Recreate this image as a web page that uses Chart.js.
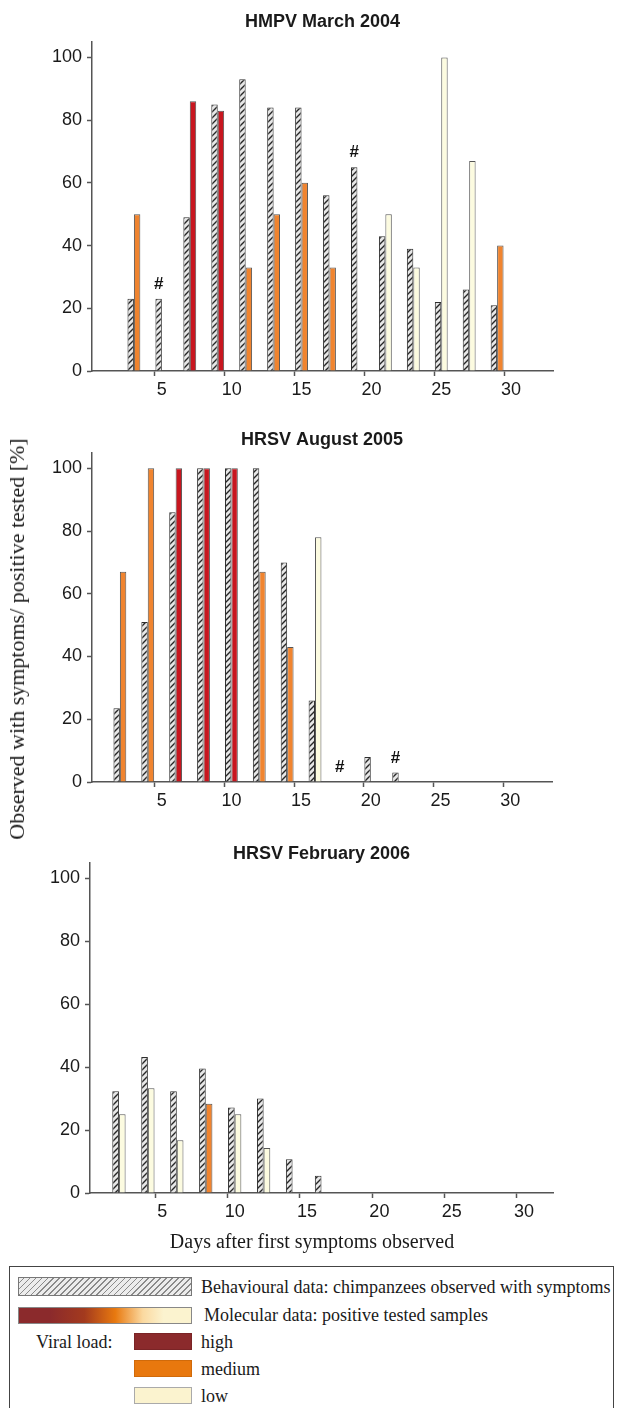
<!DOCTYPE html>
<html>
<head>
<meta charset="utf-8">
<script src="https://cdn.jsdelivr.net/npm/chart.js@4.4.1/dist/chart.umd.min.js"></script>
<style>
  html, body { margin: 0; padding: 0; background: #fff; }
  body { position: relative; width: 620px; height: 1408px; overflow: hidden; font-family: "Liberation Serif", "Times New Roman", serif; color: #1a1a1a; }
  canvas.panel { position: absolute; left: 0; }
  .abs { position: absolute; white-space: nowrap; }
  .ylabel { left: 17px; top: 639px; font-size: 22px; transform: translate(-50%, -50%) rotate(-90deg); }
  .xlabel { left: 312px; top: 1241px; font-size: 20px; transform: translate(-50%, -50%); }
  .legend-box { left: 9px; top: 1266px; width: 605px; height: 160px; border: 1.5px solid #444; border-bottom: none; box-sizing: border-box; }
  .lt { font-size: 18px; transform: translateY(-50%); }
  .sw { box-sizing: border-box; }
</style>
</head>
<body>
<canvas id="c1" class="panel" width="620" height="411" style="top:0px"></canvas>
<canvas id="c2" class="panel" width="620" height="402" style="top:420px"></canvas>
<canvas id="c3" class="panel" width="620" height="399" style="top:834px"></canvas>

<div class="abs ylabel">Observed with symptoms/ positive tested [%]</div>
<div class="abs xlabel">Days after first symptoms observed</div>

<div class="abs legend-box"></div>
<div class="abs sw" style="left:18px;top:1277px;width:174px;height:19px;border:1px solid #777;background:repeating-linear-gradient(135deg,#ececec 0px,#ececec 3px,#8a8a8a 3px,#8a8a8a 4.2px);"></div>
<div class="abs lt" style="left:201px;top:1287px;">Behavioural data: chimpanzees observed with symptoms</div>
<div class="abs sw" style="left:18px;top:1307px;width:174px;height:17px;border:1px solid #888;background:linear-gradient(90deg,#8b2a2c 0%,#8b2a2c 18%,#a33a1e 38%,#e8790f 56%,#fbd9a0 72%,#fbf3cf 84%,#fbf3cf 100%);"></div>
<div class="abs lt" style="left:204px;top:1315px;">Molecular data: positive tested samples</div>
<div class="abs lt" style="left:36px;top:1342px;">Viral load:</div>
<div class="abs sw" style="left:134px;top:1333px;width:58px;height:17px;background:#8b2a2c;border:1px solid #7a2426;"></div>
<div class="abs lt" style="left:201px;top:1342px;">high</div>
<div class="abs sw" style="left:134px;top:1360px;width:58px;height:17px;background:#e8780e;border:1px solid #d06a0a;"></div>
<div class="abs lt" style="left:201px;top:1369px;">medium</div>
<div class="abs sw" style="left:134px;top:1387px;width:58px;height:17px;background:#fbf3cf;border:1px solid #aaa;"></div>
<div class="abs lt" style="left:201px;top:1396px;">low</div>

<script>
// ---------- Data ----------
// Panel titles
const TITLES = ["HMPV March 2004", "HRSV August 2005", "HRSV February 2006"];

// Day categories (x axis)
const DAYS_33 = [0,1,2,3,4,5,6,7,8,9,10,11,12,13,14,15,16,17,18,19,20,21,22,23,24,25,26,27,28,29,30,31,32,33];
const DAYS_32 = [0,1,2,3,4,5,6,7,8,9,10,11,12,13,14,15,16,17,18,19,20,21,22,23,24,25,26,27,28,29,30,31,32];
const X_TICKS = [5, 10, 15, 20, 25, 30];
const Y_TICKS_STEP = 20;

// HMPV March 2004
const HMPV_BEHAV_DAYS = [3, 5, 7, 9, 11, 13, 15, 17, 19, 21, 23, 25, 27, 29];
const HMPV_BEHAV      = [23, 23, 49, 85, 93, 84, 84, 56, 65, 43, 39, 22, 26, 21];
const HMPV_MOL_DAYS   = [3, 7, 9, 11, 13, 15, 17, 21, 23, 25, 27, 29];
const HMPV_MOL        = [50, 86, 83, 33, 50, 60, 33, 50, 33, 100, 67, 40];
const HMPV_LOAD       = ["medium","high","high","medium","medium","medium","medium","low","low","low","low","medium"];
const HMPV_HASH       = [5, 19];

// HRSV August 2005
const AUG_BEHAV_DAYS = [2, 4, 6, 8, 10, 12, 14, 16, 20, 22];
const AUG_BEHAV      = [23.5, 51, 86, 100, 100, 100, 70, 26, 8, 3];
const AUG_MOL_DAYS   = [2, 4, 6, 8, 10, 12, 14, 16];
const AUG_MOL        = [67, 100, 100, 100, 100, 67, 43, 78];
const AUG_LOAD       = ["medium","medium","high","high","high","medium","medium","low"];
const AUG_HASH       = [18, 22];

// HRSV February 2006
const FEB_BEHAV_DAYS = [2, 4, 6, 8, 10, 12, 14, 16];
const FEB_BEHAV      = [32.3, 43.2, 32.3, 39.6, 27.2, 30, 10.7, 5.5];
const FEB_MOL_DAYS   = [2, 4, 6, 8, 10, 12];
const FEB_MOL        = [25, 33.3, 16.8, 28.4, 25, 14.3];
const FEB_LOAD       = ["low","low","low","medium","low","low"];
const FEB_HASH       = [];

// ---------- Styling ----------
const LOAD_COLORS = { high: "#c8161f", medium: "#f0842f", low: "#fcfbe0" };
const FONT_SANS = '"Liberation Sans", Arial, Helvetica, sans-serif';
Chart.defaults.font.family = FONT_SANS;
Chart.defaults.color = "#1a1a1a";

function hatchPattern() {
  const t = document.createElement("canvas");
  t.width = 6; t.height = 6;
  const g = t.getContext("2d");
  g.fillStyle = "#e6e6e6";
  g.fillRect(0, 0, 6, 6);
  g.strokeStyle = "#262626";
  g.lineWidth = 1.4;
  g.beginPath();
  g.moveTo(-1, 7); g.lineTo(7, -1);
  g.moveTo(-1, 1); g.lineTo(1, -1);
  g.moveTo(5, 7); g.lineTo(7, 5);
  g.stroke();
  return document.createElement("canvas").getContext("2d").createPattern(t, "repeat");
}
const HATCH = hatchPattern();

function buildSeries(labels, days, vals) {
  return labels.map(d => { const i = days.indexOf(d); return i < 0 ? null : vals[i]; });
}
function buildColors(labels, days, loads) {
  return labels.map(d => { const i = days.indexOf(d); return i < 0 ? "rgba(0,0,0,0)" : LOAD_COLORS[loads[i]]; });
}

const panelTitle = {
  id: "panelTitle",
  afterDraw(chart, args, o) {
    const { ctx, chartArea } = chart;
    ctx.save();
    ctx.font = "bold 18px " + FONT_SANS;
    ctx.fillStyle = "#1a1a1a";
    ctx.textAlign = "center";
    ctx.textBaseline = "middle";
    ctx.fillText(o.text, (chartArea.left + chartArea.right) / 2, o.y);
    ctx.restore();
  }
};

const hashMarks = {
  id: "hashMarks",
  afterDatasetsDraw(chart, args, o) {
    const meta = chart.getDatasetMeta(0);
    const ys = chart.scales.y;
    const labels = chart.data.labels;
    const data = chart.data.datasets[0].data;
    const ctx = chart.ctx;
    ctx.save();
    ctx.font = "bold 17px " + FONT_SANS;
    ctx.fillStyle = "#111";
    ctx.textAlign = "center";
    ctx.textBaseline = "middle";
    (o.days || []).forEach(d => {
      const i = labels.indexOf(d);
      if (i < 0) return;
      const v = data[i] == null ? 0 : data[i];
      ctx.fillText("#", meta.data[i].x, ys.getPixelForValue(v + 4.6));
    });
    ctx.restore();
  }
};

function makeChart(id, title, titleY, labels, bDays, bVals, mDays, mVals, mLoads, hashDays, left, right, padTop) {
  const behav = buildSeries(labels, bDays, bVals);
  const mol = buildSeries(labels, mDays, mVals);
  const molColors = buildColors(labels, mDays, mLoads);
  return new Chart(document.getElementById(id), {
    type: "bar",
    data: {
      labels: labels,
      datasets: [
        { label: "Behavioural data", data: behav, backgroundColor: HATCH, borderColor: "#2e2e2e", borderWidth: 1,
          categoryPercentage: 0.92, barPercentage: 1 },
        { label: "Molecular data", data: mol, backgroundColor: molColors, borderColor: "#555", borderWidth: 1,
          categoryPercentage: 0.92, barPercentage: 1 }
      ]
    },
    options: {
      responsive: false,
      animation: false,
      devicePixelRatio: 1,
      layout: { padding: { left: 0, right: right, top: padTop, bottom: 0 } },
      plugins: {
        legend: { display: false },
        tooltip: { enabled: false },
        panelTitle: { text: title, y: titleY },
        hashMarks: { days: hashDays }
      },
      scales: {
        x: {
          type: "category",
          offset: false,
          grid: {
            drawOnChartArea: false, drawTicks: true, tickLength: 5, tickWidth: 1.5,
            tickColor: ctx => (X_TICKS.indexOf(labels[ctx.index]) >= 0 ? "#555" : "rgba(0,0,0,0)")
          },
          border: { display: true, color: "#555", width: 1.5 },
          ticks: {
            autoSkip: false, maxRotation: 0, minRotation: 0, padding: 3,
            color: "#1a1a1a", font: { size: 18 },
            callback: (v, i) => (X_TICKS.indexOf(labels[i]) >= 0 ? String(labels[i]) : "")
          },
          afterFit: s => { s.height = 40; }
        },
        y: {
          min: 0, max: 105,
          ticks: { stepSize: Y_TICKS_STEP, includeBounds: false, padding: 5, color: "#1a1a1a", font: { size: 18 } },
          grid: { drawOnChartArea: false, drawTicks: true, tickLength: 5, tickWidth: 1.5, tickColor: "#555" },
          border: { display: true, color: "#555", width: 1.5 },
          afterFit: s => { s.width = left; }
        }
      }
    },
    plugins: [panelTitle, hashMarks]
  });
}

makeChart("c1", TITLES[0], 22, DAYS_33, HMPV_BEHAV_DAYS, HMPV_BEHAV, HMPV_MOL_DAYS, HMPV_MOL, HMPV_LOAD, HMPV_HASH, 92, 67, 41.7);
makeChart("c2", TITLES[1], 20, DAYS_33, AUG_BEHAV_DAYS, AUG_BEHAV, AUG_MOL_DAYS, AUG_MOL, AUG_LOAD, AUG_HASH, 92, 68, 32.6);
makeChart("c3", TITLES[2], 20, DAYS_32, FEB_BEHAV_DAYS, FEB_BEHAV, FEB_MOL_DAYS, FEB_MOL, FEB_LOAD, FEB_HASH, 90, 67, 28.6);
</script>
</body>
</html>
